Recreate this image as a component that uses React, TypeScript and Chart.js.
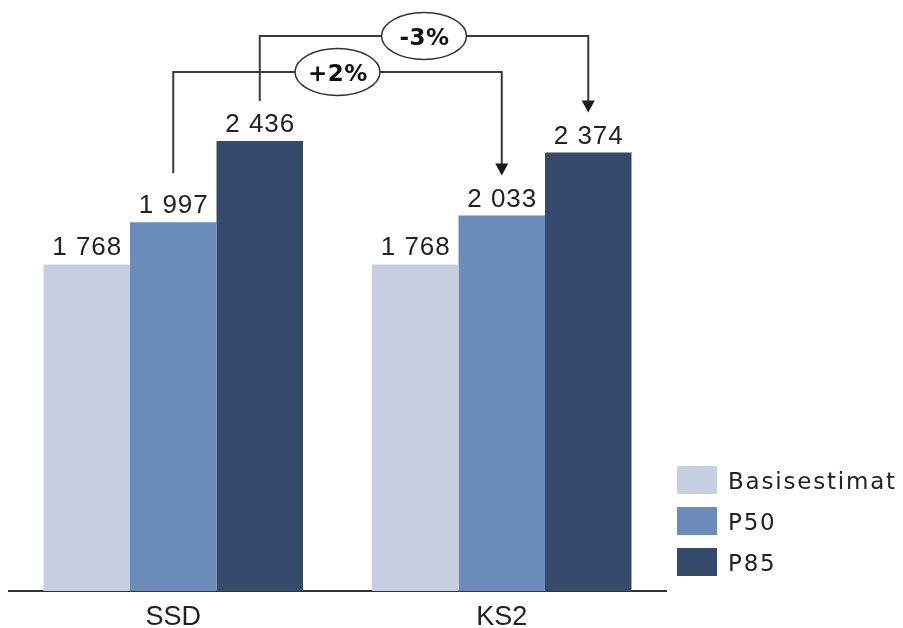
import { useEffect, useRef } from 'react';
import { Chart, registerables } from 'chart.js';

Chart.register(...registerables);

const categories = ['SSD', 'KS2'];
const seriesNames = ['Basisestimat', 'P50', 'P85'];
const basisValues = [1768, 1768];
const p50Values = [1997, 2033];
const p85Values = [2436, 2374];
const seriesColors = ['#c5cfe1', '#6b8cb8', '#364a6b'];

// change annotations: which series, label, and bracket level (in axis units)
const changeSeries = [2, 1];
const changeLabels = ['-3%', '+2%'];
const changeLevels = [3005, 2810];
const changeStartGaps = [12, 21];

const FONT = '"Liberation Sans", Arial, Helvetica, sans-serif';
const WIDE = '"DejaVu Sans", Verdana, sans-serif';

function fmt(v: number): string {
  return String(v).replace(/\B(?=(\d{3})+(?!\d))/g, ' ');
}

const annotatePlugin = {
  id: 'annotate',
  afterDatasetsDraw(chart: any) {
    const ctx = chart.ctx as CanvasRenderingContext2D;
    const yScale = chart.scales.y;
    const area = chart.chartArea;
    ctx.save();

    // value labels
    ctx.font = `26px ${FONT}`;
    ctx.fillStyle = '#222';
    ctx.textAlign = 'center';
    ctx.textBaseline = 'alphabetic';
    (ctx as any).letterSpacing = '1px';
    chart.data.datasets.forEach((ds: any, di: number) => {
      chart.getDatasetMeta(di).data.forEach((bar: any, i: number) => {
        ctx.fillText(fmt(ds.data[i]), bar.x + 0.5, bar.y - 9);
      });
    });

    // brackets with arrows
    const labelTop = (bar: any) => bar.y - 9 - 19;
    changeSeries.forEach((si, k) => {
      const meta = chart.getDatasetMeta(si);
      const b0 = meta.data[0];
      const b1 = meta.data[1];
      const level = yScale.getPixelForValue(changeLevels[k]);
      const y0 = labelTop(b0) - changeStartGaps[k];
      const tip = labelTop(b1) - 12;
      ctx.strokeStyle = '#3a3a3a';
      ctx.lineWidth = 2;
      ctx.beginPath();
      ctx.moveTo(b0.x, y0);
      ctx.lineTo(b0.x, level);
      ctx.lineTo(b1.x, level);
      ctx.lineTo(b1.x, tip - 10);
      ctx.stroke();
      ctx.fillStyle = '#1a1a1a';
      ctx.beginPath();
      ctx.moveTo(b1.x - 6.5, tip - 12);
      ctx.lineTo(b1.x + 6.5, tip - 12);
      ctx.lineTo(b1.x, tip);
      ctx.closePath();
      ctx.fill();

      const mx = (b0.x + b1.x) / 2;
      ctx.beginPath();
      ctx.ellipse(mx, level, 42.5, 23.5, 0, 0, Math.PI * 2);
      ctx.fillStyle = '#fff';
      ctx.fill();
      ctx.lineWidth = 1.5;
      ctx.strokeStyle = '#333';
      ctx.stroke();

      ctx.font = `bold 23px ${WIDE}`;
      (ctx as any).letterSpacing = '0.5px';
      ctx.fillStyle = '#111';
      ctx.textAlign = 'center';
      ctx.textBaseline = 'alphabetic';
      ctx.fillText(changeLabels[k], mx + 0.5, level + 8.5);
    });

    // legend
    ctx.font = `23px ${WIDE}`;
    (ctx as any).letterSpacing = '1.8px';
    ctx.textAlign = 'left';
    ctx.textBaseline = 'alphabetic';
    const n = chart.data.datasets.length;
    chart.data.datasets.forEach((ds: any, i: number) => {
      const bx = area.right + 11;
      const by = area.bottom - 15 - 28 - (n - 1 - i) * 41;
      ctx.fillStyle = ds.backgroundColor;
      ctx.fillRect(bx, by, 40, 28);
      ctx.fillStyle = '#222';
      ctx.fillText(ds.label, bx + 51, by + 22.5);
    });

    ctx.restore();
  },
};

export default function App() {
  const ref = useRef<HTMLCanvasElement>(null);

  useEffect(() => {
    if (!ref.current) return;
    const seriesValues = [basisValues, p50Values, p85Values];
    const chart = new Chart(ref.current, {
      type: 'bar',
      data: {
        labels: categories,
        datasets: seriesNames.map((name, i) => ({
          label: name,
          data: seriesValues[i],
          backgroundColor: seriesColors[i],
          borderWidth: 0,
          categoryPercentage: 0.79,
          barPercentage: 1,
        })),
      },
      options: {
        animation: false,
        responsive: false,
        layout: { padding: { left: 9, right: 237, top: 0, bottom: 0 } },
        plugins: {
          legend: { display: false },
          tooltip: { enabled: false },
        },
        scales: {
          x: {
            grid: { display: false, drawTicks: false },
            border: { display: true, color: '#333', width: 2 },
            ticks: {
              padding: 10,
              color: '#222',
              font: { family: FONT, size: 27 },
            },
            afterFit: (scale: any) => {
              scale.height = 37;
            },
          },
          y: {
            display: false,
            min: 0,
            max: 3200,
          },
        },
      },
      plugins: [annotatePlugin],
    });
    return () => chart.destroy();
  }, []);

  return (
    <canvas
      ref={ref}
      width={903}
      height={628}
      style={{ position: 'absolute', left: 0, top: 0, width: 903, height: 628 }}
    />
  );
}
